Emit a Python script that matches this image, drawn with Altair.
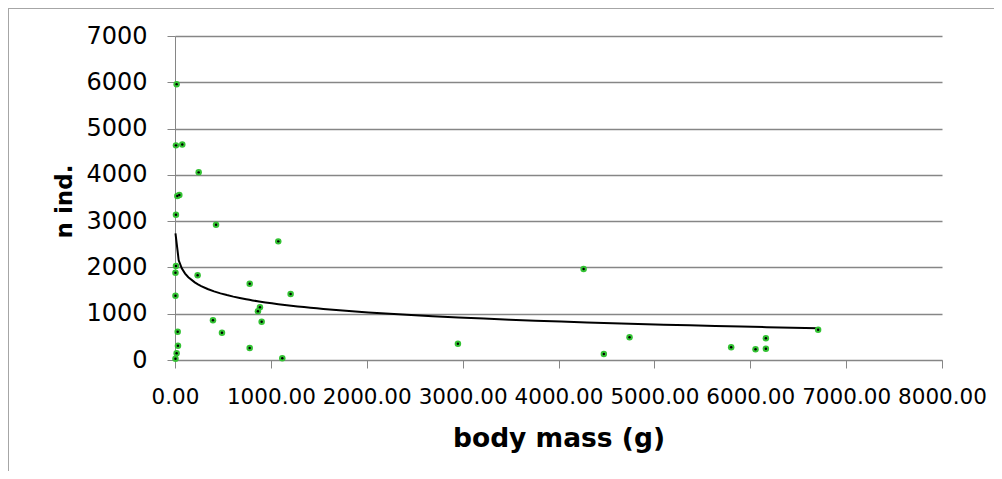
import altair as alt
import pandas as pd

body_mass = [17, 10, 76, 247, 24, 45, 10, 428, 1077, 10, 5, 236, 779, 1206, 5,
             886, 865, 396, 904, 28, 490, 31, 779, 17, 5, 1119,
             2951, 4262, 4473, 4741, 5801, 6055, 6163, 6163, 6708]
n_ind = [5960, 4637, 4658, 4054, 3542, 3564, 3138, 2923, 2563, 2030, 1886, 1829, 1648, 1425, 1389,
         1138, 1052, 857, 828, 612, 590, 309, 259, 144, 29, 36,
         353, 1965, 130, 490, 274, 231, 468, 245, 654]

x_ticks = [0, 1000, 2000, 3000, 4000, 5000, 6000, 7000, 8000]
y_ticks = [0, 1000, 2000, 3000, 4000, 5000, 6000, 7000]

df = pd.DataFrame({"mass": body_mass, "n": n_ind})

FONT = "DejaVu Sans"
GRID = "#868686"

x_enc = alt.X("mass:Q", scale=alt.Scale(domain=[0, 8000], nice=False),
              axis=alt.Axis(values=x_ticks, format=".2f", title="body mass (g)",
                            grid=False, domainColor=GRID, tickColor=GRID, tickSize=8,
                            labelFontSize=21.5, labelPadding=18, labelColor="black",
                            labelFont=FONT, titleFont=FONT, titleFontSize=26.5,
                            titleFontWeight="bold", titleColor="black",
                            titleBaseline="alphabetic", titleY=86, labelFlush=False))
y_enc = alt.Y("n:Q", scale=alt.Scale(domain=[0, 7000], nice=False),
              axis=alt.Axis(values=y_ticks, format="d", title="n ind.",
                            grid=True, gridColor=GRID, gridWidth=1.4,
                            domainColor=GRID, tickColor=GRID, tickSize=8,
                            labelFontSize=24, labelPadding=20, labelColor="black",
                            labelFont=FONT, titleFont=FONT, titleFontSize=23,
                            titleFontWeight="bold", titleColor="black",
                            titleBaseline="alphabetic", titleX=-104, titleY=165))

base = alt.Chart(df)

points_outer = base.mark_circle(color="#33c233", size=42, opacity=1).encode(x=x_enc, y=y_enc)
points_inner = base.mark_circle(color="black", size=6, opacity=1).encode(x="mass:Q", y="n:Q")

trend = base.transform_regression("mass", "n", method="log",
                                  extent=[min(body_mass), max(body_mass)]).mark_line(
    color="black", strokeWidth=2).encode(x="mass:Q", y="n:Q")

border_top = alt.Chart(df).mark_rule(color="#a6a6a6", strokeWidth=1).encode(
    x=alt.value(-166.5), x2=alt.value(900), y=alt.value(-27.5))
border_left = alt.Chart(df).mark_rule(color="#a6a6a6", strokeWidth=1).encode(
    x=alt.value(-166.5), y=alt.value(-27.5), y2=alt.value(500))

chart = alt.layer(border_top, border_left, trend, points_outer, points_inner).properties(
    width=767, height=324,
    autosize=alt.AutoSizeParams(type="none"),
    padding={"left": 167, "top": 28, "right": 52, "bottom": 111},
).configure_view(stroke=None)

chart.save("out.html", embed_options={"renderer": "svg", "actions": False})
